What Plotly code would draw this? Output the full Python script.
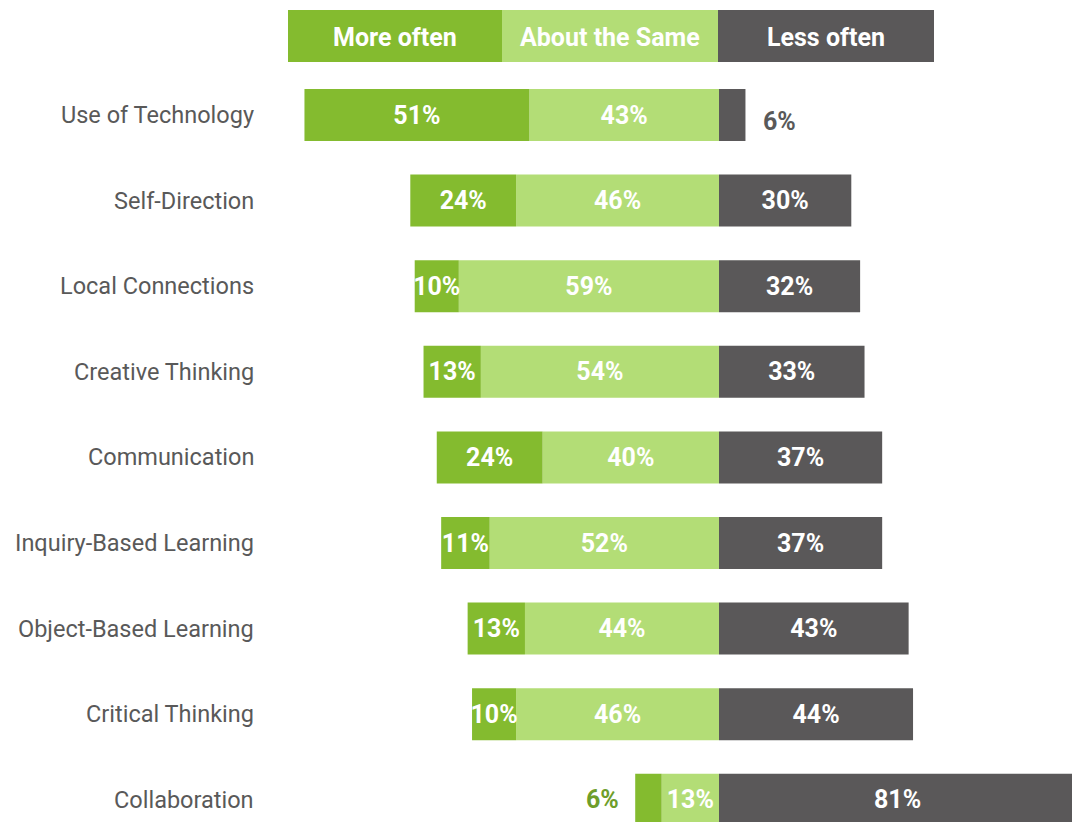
import plotly.graph_objects as go

categories = ["Use of Technology", "Self-Direction", "Local Connections", "Creative Thinking",
              "Communication", "Inquiry-Based Learning", "Object-Based Learning",
              "Critical Thinking", "Collaboration"]
more_often = [51, 24, 10, 13, 24, 11, 13, 10, 6]
about_same = [43, 46, 59, 54, 40, 52, 44, 46, 13]
less_often = [6, 30, 32, 33, 37, 37, 43, 44, 81]
series_names = ["More often", "About the Same", "Less often"]

C_MORE = "#84BB2F"
C_SAME = "#B3DD76"
C_LESS = "#5A5859"
LABEL_GREY = "#595959"
OUT_GREEN = "#6E9E2A"
FONT = "Roboto, Liberation Sans, sans-serif"
BAR_FS = 25
SMALL = 8  # values below this get their label outside the bar

W, H = 1072, 822
PX_PER_PCT = 4.41
ZERO_PX = 719
x_range = [-ZERO_PX / PX_PER_PCT, (W - ZERO_PX) / PX_PER_PCT]
ROW = 85.6
FIRST = 115
y_range = [(H - FIRST) / ROW, -FIRST / ROW]
BAR_W = 52 / ROW


def inside_txt(vals):
    return [f"<b>{v}%</b>" if SMALL <= v <= x_range[1] else "" for v in vals]


fig = go.Figure()

common = dict(orientation="h", width=BAR_W, textposition="inside",
              insidetextanchor="middle", textangle=0, cliponaxis=False,
              textfont=dict(color="white", size=BAR_FS, family=FONT),
              hoverinfo="skip")

fig.add_trace(go.Bar(y=categories, x=[-v for v in about_same], name=series_names[1],
                     marker=dict(color=C_SAME, line=dict(width=0)),
                     text=inside_txt(about_same), **common))
fig.add_trace(go.Bar(y=categories, x=[-v for v in more_often], name=series_names[0],
                     marker=dict(color=C_MORE, line=dict(width=0)),
                     text=inside_txt(more_often), **common))
fig.add_trace(go.Bar(y=categories, x=less_often, name=series_names[2],
                     marker=dict(color=C_LESS, line=dict(width=0)),
                     text=inside_txt(less_often), **common))

# labels for small segments (outside the bar ends) and for bars running past the axis edge
for c, m, s, l in zip(categories, more_often, about_same, less_often):
    if m < SMALL:
        fig.add_annotation(x=-(m + s), y=c, xref="x", yref="y", text=f"<b>{m}%</b>",
                           showarrow=False, xanchor="right", yanchor="middle", xshift=-14,
                           font=dict(color=OUT_GREEN, size=BAR_FS, family=FONT))
    if l < SMALL:
        fig.add_annotation(x=l, y=c, xref="x", yref="y", text=f"<b>{l}%</b>",
                           showarrow=False, xanchor="left", yanchor="middle", xshift=16,
                           yshift=-6,
                           font=dict(color=LABEL_GREY, size=BAR_FS, family=FONT))
    elif l > x_range[1]:
        fig.add_annotation(x=l / 2, y=c, xref="x", yref="y", text=f"<b>{l}%</b>",
                           showarrow=False, xanchor="center", yanchor="middle",
                           font=dict(color="white", size=BAR_FS, family=FONT))

# Category labels
for c in categories:
    fig.add_annotation(x=(256 - ZERO_PX) / PX_PER_PCT, y=c, xref="x", yref="y",
                       text=c, showarrow=False, xanchor="right", yanchor="middle",
                       font=dict(color=LABEL_GREY, size=23.5, family=FONT))

# Header legend boxes
hdr_x = [288, 502, 718, 934]
hdr_cols = [C_MORE, C_SAME, C_LESS]
for i, name in enumerate(series_names):
    x0, x1 = hdr_x[i] / W, hdr_x[i + 1] / W
    fig.add_shape(type="rect", xref="paper", yref="paper", x0=x0, x1=x1,
                  y0=1 - 62 / H, y1=1 - 10 / H, fillcolor=hdr_cols[i], line=dict(width=0),
                  layer="below")
    fig.add_annotation(x=(x0 + x1) / 2, y=1 - 37 / H, xref="paper", yref="paper",
                       text=f"<b>{name}</b>", showarrow=False,
                       xanchor="center", yanchor="middle",
                       font=dict(color="white", size=25, family=FONT))

fig.update_layout(
    width=W, height=H, barmode="relative", showlegend=False,
    margin=dict(l=0, r=0, t=0, b=0),
    plot_bgcolor="white", paper_bgcolor="white",
    font=dict(family=FONT),
    uniformtext=dict(minsize=BAR_FS, mode="show"),
    xaxis=dict(range=x_range, visible=False, fixedrange=True),
    yaxis=dict(range=y_range, visible=False, fixedrange=True,
               categoryorder="array", categoryarray=categories),
)

fig.write_html("out.html", config={"displayModeBar": False},
               post_script="document.body.style.margin='0';")
